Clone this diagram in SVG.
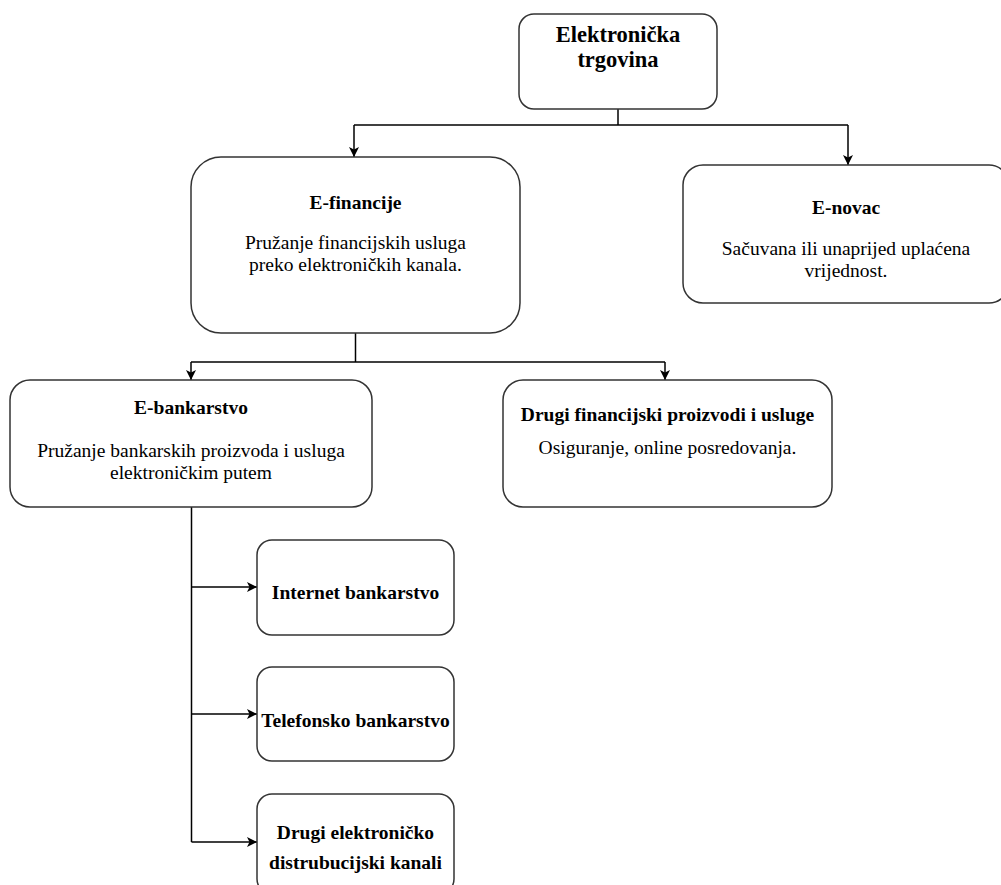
<svg xmlns="http://www.w3.org/2000/svg" width="1001" height="885" viewBox="0 0 1001 885">
<style>
.box{fill:#fff;stroke:#333;stroke-width:1.5}
.t{font-family:"Liberation Serif","Times New Roman",serif;fill:#000;text-anchor:middle}
.b{font-weight:bold;font-size:19.5px}
.r{font-size:19.5px}
.big{font-weight:bold;font-size:22.5px}
.c{fill:none;stroke:#000;stroke-width:1.5}
</style>
<defs>
<marker id="ah" viewBox="0 0 10 10" refX="10" refY="5" markerWidth="10" markerHeight="10" markerUnits="userSpaceOnUse" orient="auto">
<path d="M0,0 L10,5 L0,10 L2.5,5 Z" fill="#000"/>
</marker>
</defs>
<rect width="1001" height="885" fill="#fff"/>
<g id="connectors">
<path class="c" d="M618,109 V125"/>
<path class="c" d="M354,125 H848"/>
<path class="c" d="M354,125 V157" marker-end="url(#ah)"/>
<path class="c" d="M848,125 V165" marker-end="url(#ah)"/>
<path class="c" d="M355.5,333 V362"/>
<path class="c" d="M191,362 H665"/>
<path class="c" d="M191,362 V380" marker-end="url(#ah)"/>
<path class="c" d="M665,362 V380" marker-end="url(#ah)"/>
<path class="c" d="M191.5,507 V842"/>
<path class="c" d="M191.5,587 H257" marker-end="url(#ah)"/>
<path class="c" d="M191.5,714 H257" marker-end="url(#ah)"/>
<path class="c" d="M191.5,842 H257" marker-end="url(#ah)"/>
</g>
<g id="n-elektronicka">
<rect class="box" x="519" y="14" width="198" height="95" rx="15"/>
<text class="t big" x="618" y="42">Elektronička</text>
<text class="t big" x="618" y="67">trgovina</text>
</g>
<g id="n-efinancije">
<rect class="box" x="191" y="157" width="329" height="176" rx="30"/>
<text class="t b" x="355.5" y="209">E-financije</text>
<text class="t r" x="355.5" y="249">Pružanje financijskih usluga</text>
<text class="t r" x="355.5" y="271">preko elektroničkih kanala.</text>
</g>
<g id="n-enovac">
<rect class="box" x="683" y="165" width="326" height="138" rx="20"/>
<text class="t b" x="846" y="214">E-novac</text>
<text class="t r" x="846" y="255">Sačuvana ili unaprijed uplaćena</text>
<text class="t r" x="846" y="277">vrijednost.</text>
</g>
<g id="n-ebankarstvo">
<rect class="box" x="10" y="380" width="362" height="127" rx="20"/>
<text class="t b" x="191" y="414">E-bankarstvo</text>
<text class="t r" x="191" y="457">Pružanje bankarskih proizvoda i usluga</text>
<text class="t r" x="191" y="479">elektroničkim putem</text>
</g>
<g id="n-drugifin">
<rect class="box" x="503" y="380" width="329" height="127" rx="20"/>
<text class="t b" x="667.5" y="421">Drugi financijski proizvodi i usluge</text>
<text class="t r" x="667.5" y="454">Osiguranje, online posredovanja.</text>
</g>
<g id="n-internet">
<rect class="box" x="257" y="540" width="197" height="95" rx="15"/>
<text class="t b" x="355.5" y="599">Internet bankarstvo</text>
</g>
<g id="n-telefonsko">
<rect class="box" x="257" y="667" width="197" height="94" rx="15"/>
<text class="t b" x="355.5" y="727">Telefonsko bankarstvo</text>
</g>
<g id="n-drugiel">
<rect class="box" x="257" y="794" width="197" height="100" rx="15"/>
<text class="t b" x="355.5" y="839">Drugi elektroničko</text>
<text class="t b" x="355.5" y="869">distrubucijski kanali</text>
</g>
</svg>
